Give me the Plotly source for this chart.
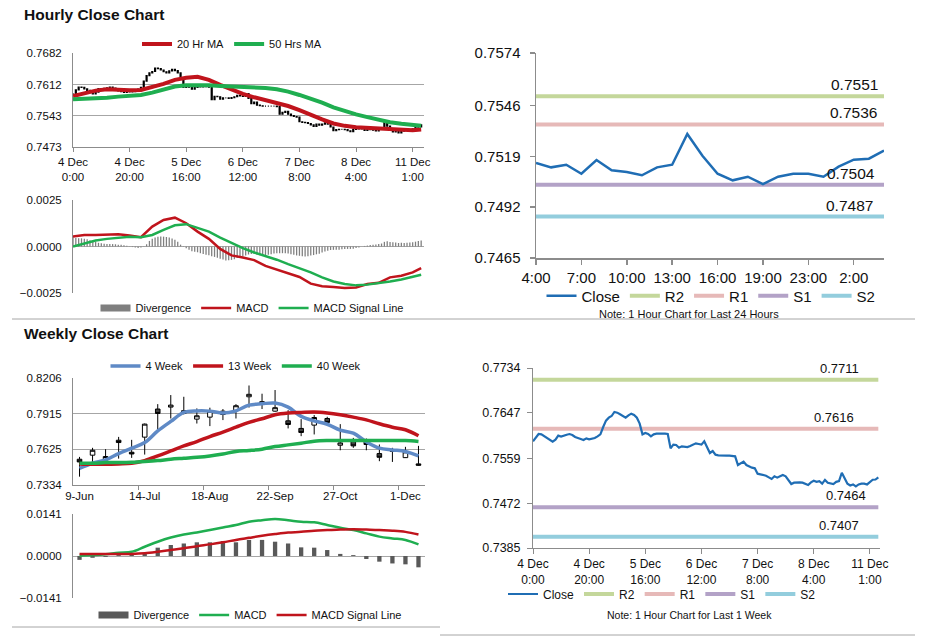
import pandas as pd
import plotly.graph_objects as go

# ---------------- data ----------------
hour_stamps = (list(pd.date_range("2017-12-04 00:00", "2017-12-08 21:00", freq="h")) +
               list(pd.date_range("2017-12-10 23:00", "2017-12-11 04:00", freq="h")))

hourly_close = [
    0.75918, 0.76002, 0.76060, 0.76054, 0.76022, 0.75989, 0.75950, 0.75912, 0.75950, 0.76028,
    0.76009, 0.76034, 0.76047, 0.76060, 0.76041, 0.76002, 0.75976, 0.75963, 0.75944, 0.75976,
    0.75957, 0.75963, 0.75983, 0.76015, 0.76054, 0.76196, 0.76319, 0.76377, 0.76409, 0.76487,
    0.76474, 0.76442, 0.76403, 0.76377, 0.76422, 0.76455, 0.76429, 0.76377, 0.76261, 0.76054,
    0.76080, 0.76060, 0.76015, 0.76054, 0.76067, 0.76073, 0.76067, 0.76067, 0.76060, 0.75782,
    0.75854, 0.75847, 0.75795, 0.75821, 0.75821, 0.75808, 0.75828, 0.75847, 0.75879, 0.75866,
    0.75854, 0.75918, 0.75808, 0.75692, 0.75731, 0.75660, 0.75647, 0.75640, 0.75640, 0.75640,
    0.75640, 0.75640, 0.75627, 0.75459, 0.75498, 0.75524, 0.75459, 0.75427, 0.75408, 0.75395,
    0.75291, 0.75278, 0.75272, 0.75252, 0.75220, 0.75188, 0.75240, 0.75214, 0.75240, 0.75265,
    0.75240, 0.75175, 0.75091, 0.75117, 0.75123, 0.75123, 0.75117, 0.75091, 0.75072, 0.75123,
    0.75155, 0.75132, 0.75146, 0.75098, 0.75171, 0.75116, 0.75107, 0.75090, 0.75132, 0.75146,
    0.75309, 0.75194, 0.75098, 0.75063, 0.75082, 0.75043, 0.75082, 0.75098, 0.75098, 0.75082,
    0.75136, 0.75173, 0.75178, 0.75221]

ma_hours = [0, 4, 8, 12, 16, 20, 24, 28, 32, 36, 40, 44, 48, 52, 56, 60, 64, 68, 72, 76,
            80, 84, 88, 92, 96, 100, 104, 108, 112, 116, 120, 123]
ma20 = [0.75865, 0.75924, 0.75984, 0.76014, 0.75999, 0.75991, 0.75999, 0.76059, 0.76133, 0.76223,
        0.76268, 0.76290, 0.76223, 0.76111, 0.75999, 0.75909, 0.75835, 0.75775, 0.75715, 0.75641,
        0.75551, 0.75439, 0.75342, 0.75253, 0.75200, 0.75171, 0.75156, 0.75148, 0.75133, 0.75111,
        0.75103, 0.75118]
ma50 = [0.75790, 0.75797, 0.75812, 0.75827, 0.75850, 0.75865, 0.75887, 0.75939, 0.76014, 0.76074,
        0.76103, 0.76111, 0.76103, 0.76089, 0.76081, 0.76074, 0.76059, 0.76044, 0.76014, 0.75962,
        0.75887, 0.75805, 0.75715, 0.75611, 0.75529, 0.75454, 0.75394, 0.75335, 0.75282, 0.75245,
        0.75215, 0.75200]
h_macd = [0.00054, 0.00062, 0.00062, 0.00062, 0.00066, 0.00059, 0.00050, 0.00107, 0.00143, 0.00155,
          0.00125, 0.00080, 0.00041, -0.00013, -0.00048, -0.00059, -0.00073, -0.00104, -0.00125, -0.00143,
          -0.00164, -0.00200, -0.00214, -0.00218, -0.00223, -0.00220, -0.00202, -0.00195, -0.00166, -0.00157,
          -0.00139, -0.00116]
h_signal = [0.0, 0.00018, 0.00032, 0.00041, 0.00048, 0.00052, 0.00050, 0.00062, 0.00089, 0.00114,
            0.00120, 0.00102, 0.00080, 0.00048, 0.00018, -0.00009, -0.00032, -0.00050, -0.00071, -0.00095,
            -0.00116, -0.00139, -0.00166, -0.00188, -0.00202, -0.00209, -0.00205, -0.00198, -0.00188, -0.00177,
            -0.00164, -0.00152]
h_divergence = [
    0.00050, 0.00046, 0.00045, 0.00044, 0.00042, 0.00039, 0.00034, 0.00028, 0.00024, 0.00020,
    0.00017, 0.00015, 0.00014, 0.00013, 0.00013, 0.00012, 0.00010, 0.00009, 0.00007, 0.00004,
    0.00001, -0.00003, -0.00005, -0.00008, -0.00006, 0.00002, 0.00012, 0.00030, 0.00042, 0.00049,
    0.00052, 0.00054, 0.00053, 0.00051, 0.00048, 0.00043, 0.00036, 0.00025, 0.00010, -0.00002,
    -0.00010, -0.00018, -0.00025, -0.00028, -0.00031, -0.00036, -0.00040, -0.00044, -0.00047, -0.00052,
    -0.00056, -0.00060, -0.00066, -0.00070, -0.00075, -0.00074, -0.00072, -0.00068, -0.00062, -0.00058,
    -0.00052, -0.00048, -0.00043, -0.00040, -0.00039, -0.00044, -0.00047, -0.00049, -0.00050, -0.00045,
    -0.00041, -0.00038, -0.00036, -0.00036, -0.00036, -0.00036, -0.00038, -0.00041, -0.00044, -0.00048,
    -0.00050, -0.00052, -0.00054, -0.00052, -0.00048, -0.00046, -0.00042, -0.00039, -0.00032, -0.00027,
    -0.00023, -0.00019, -0.00018, -0.00018, -0.00017, -0.00015, -0.00014, -0.00013, -0.00013, -0.00012,
    -0.00008, -0.00005, 0.00000, 0.00003, 0.00005, 0.00008, 0.00009, 0.00011, 0.00013, 0.00016,
    0.00025, 0.00028, 0.00024, 0.00023, 0.00021, 0.00019, 0.00020, 0.00019, 0.00020, 0.00021,
    0.00023, 0.00026, 0.00029, 0.00032]

day_levels = {"R2": 0.7551, "R1": 0.7536, "S1": 0.7504, "S2": 0.7487}
week_levels = {"R2": 0.7711, "R1": 0.7616, "S1": 0.7464, "S2": 0.7407}

week_labels = ["9-Jun", "16-Jun", "23-Jun", "30-Jun", "7-Jul", "14-Jul", "21-Jul", "28-Jul", "4-Aug",
               "11-Aug", "18-Aug", "25-Aug", "1-Sep", "8-Sep", "15-Sep", "22-Sep", "29-Sep", "6-Oct",
               "13-Oct", "20-Oct", "27-Oct", "3-Nov", "10-Nov", "17-Nov", "24-Nov", "1-Dec", "8-Dec"]
w_open = [0.7544, 0.7577, 0.7538, 0.7699, 0.7601, 0.7724, 0.7953, 0.7969, 0.7939, 0.7871,
          0.7887, 0.7936, 0.7942, 0.8053, 0.8013, 0.7936, 0.7857, 0.7795, 0.7822, 0.7876,
          0.7658, 0.7694, 0.7694, 0.7590, 0.7615, 0.7557, 0.7506]
w_high = [0.7563, 0.7637, 0.7626, 0.7726, 0.7702, 0.7835, 0.7993, 0.8067, 0.8053, 0.7958,
          0.7964, 0.7953, 0.7993, 0.8145, 0.8078, 0.8108, 0.7944, 0.7871, 0.7904, 0.7890,
          0.7830, 0.7718, 0.7713, 0.7664, 0.7637, 0.7645, 0.7653]
w_low = [0.7402, 0.7517, 0.7520, 0.7549, 0.7555, 0.7582, 0.7789, 0.7876, 0.7909, 0.7835,
         0.7814, 0.7863, 0.7876, 0.7965, 0.7953, 0.7931, 0.7795, 0.7732, 0.7746, 0.7835,
         0.7617, 0.7637, 0.7617, 0.7528, 0.7522, 0.7555, 0.7492]
w_close = [0.7522, 0.7617, 0.7566, 0.7680, 0.7587, 0.7830, 0.7917, 0.7985, 0.7917, 0.7898,
           0.7936, 0.7909, 0.7980, 0.8073, 0.8002, 0.7964, 0.7827, 0.7762, 0.7884, 0.7844,
           0.7677, 0.7653, 0.7664, 0.7560, 0.7609, 0.7604, 0.7495]
ma4 = [0.7470, 0.7511, 0.7538, 0.7590, 0.7634, 0.7680, 0.7775, 0.7852, 0.7925, 0.7938,
       0.7936, 0.7920, 0.7938, 0.7985, 0.7996, 0.8002, 0.7969, 0.7893, 0.7857, 0.7829,
       0.7781, 0.7756, 0.7686, 0.7634, 0.7620, 0.7607, 0.7571]
ma13 = [0.7506, 0.7503, 0.7503, 0.7506, 0.7511, 0.7533, 0.7571, 0.7612, 0.7653, 0.7688,
        0.7729, 0.7765, 0.7805, 0.7844, 0.7874, 0.7906, 0.7920, 0.7925, 0.7928, 0.7920,
        0.7906, 0.7887, 0.7865, 0.7833, 0.7805, 0.7784, 0.7735]
ma40 = [0.7511, 0.7511, 0.7517, 0.7517, 0.7519, 0.7525, 0.7533, 0.7544, 0.7552, 0.7560,
        0.7571, 0.7587, 0.7607, 0.7615, 0.7626, 0.7647, 0.7661, 0.7675, 0.7691, 0.7696,
        0.7696, 0.7696, 0.7696, 0.7696, 0.7696, 0.7696, 0.7688]
w_macd = [0.0001, 0.0003, 0.0006, 0.0011, 0.0014, 0.0031, 0.0048, 0.0062, 0.0072, 0.0079,
          0.0087, 0.0096, 0.0104, 0.0115, 0.0120, 0.0124, 0.0120, 0.0115, 0.0113, 0.0104,
          0.0095, 0.0087, 0.0076, 0.0065, 0.0059, 0.0054, 0.0039]
w_signal = [0.0007, 0.0007, 0.0007, 0.0007, 0.0007, 0.0009, 0.0014, 0.0020, 0.0026, 0.0033,
            0.0039, 0.0046, 0.0054, 0.0061, 0.0068, 0.0074, 0.0079, 0.0081, 0.0085, 0.0087,
            0.0089, 0.0090, 0.0089, 0.0087, 0.0085, 0.0081, 0.0072]
w_divergence = [-0.0013, -0.0006, -0.0003, 0.0003, 0.0006, 0.0009, 0.0028, 0.0037, 0.0042, 0.0046,
                0.0046, 0.0050, 0.0046, 0.0054, 0.0054, 0.0048, 0.0042, 0.0029, 0.0028, 0.0020,
                0.0007, 0.0003, -0.0010, -0.0019, -0.0025, -0.0028, -0.0038]

hourly_ticks = [0, 20, 40, 60, 80, 100, 120]
day_ticks = [100, 103, 106, 109, 112, 115, 118, 121]
week_ticks = [0, 5, 10, 15, 20, 25]

# ---------------- style ----------------
W, H = 928, 638
FONT = "Liberation Sans, Arial, sans-serif"
RED = "#c0141c"
GREEN = "#1fae50"
BLUE = "#1f6db4"
STEEL = "#5f8ac6"
AXC = "#8c8c8c"
GRID = "#a6a6a6"
LVL_COL = {"R2": "#c4d79b", "R1": "#e6b9b8", "S1": "#b3a2c7", "S2": "#93cddd"}


def fx(p):
    return p / W


def fy(p):
    return 1 - p / H


hx = list(range(len(hourly_close)))
h_open = [hourly_close[0]] + hourly_close[:-1]
h_high = [max(o, c) for o, c in zip(h_open, hourly_close)]
h_low = [min(o, c) for o, c in zip(h_open, hourly_close)]
wx = list(range(len(week_labels)))


def hour_label(i):
    d = hour_stamps[i]
    return f"{d.day} Dec<br>{d.hour}:00"


fig = go.Figure()

# ---- panel 1: hourly close with MAs ----
fig.add_trace(go.Scatter(x=ma_hours, y=ma20, mode="lines", name="20 Hr MA",
                         line=dict(color=RED, width=4), xaxis="x", yaxis="y", legend="legend"))
fig.add_trace(go.Scatter(x=ma_hours, y=ma50, mode="lines", name="50 Hrs MA",
                         line=dict(color=GREEN, width=4), xaxis="x", yaxis="y", legend="legend"))
fig.add_trace(go.Candlestick(x=hx, open=h_open, high=h_high, low=h_low, close=hourly_close,
                             increasing=dict(line=dict(color="black", width=1.2), fillcolor="white"),
                             decreasing=dict(line=dict(color="black", width=1.2), fillcolor="black"),
                             showlegend=False, hoverinfo="skip", xaxis="x", yaxis="y"))

# ---- panel 2: hourly MACD ----
fig.add_trace(go.Bar(x=hx, y=h_divergence, width=0.45, marker=dict(color="#7f7f7f", line=dict(width=0)),
                     showlegend=False, xaxis="x2", yaxis="y2"))
fig.add_trace(go.Scatter(x=[None], y=[None], mode="lines", name="Divergence",
                         line=dict(color="#7f7f7f", width=7), xaxis="x2", yaxis="y2", legend="legend2"))
fig.add_trace(go.Scatter(x=ma_hours, y=h_macd, mode="lines", name="MACD",
                         line=dict(color=RED, width=2.5), xaxis="x2", yaxis="y2", legend="legend2"))
fig.add_trace(go.Scatter(x=ma_hours, y=h_signal, mode="lines", name="MACD Signal Line",
                         line=dict(color=GREEN, width=2.5), xaxis="x2", yaxis="y2", legend="legend2"))

# ---- panel 3: last 24 hours ----
for rank, (k, v) in enumerate(day_levels.items()):
    fig.add_trace(go.Scatter(x=[hx[100], hx[-1]], y=[v, v], mode="lines", name=k,
                             line=dict(color=LVL_COL[k], width=4), xaxis="x3", yaxis="y3",
                             legend="legend3", legendrank=rank + 2))
fig.add_trace(go.Scatter(x=hx[100:], y=hourly_close[100:], mode="lines", name="Close",
                         line=dict(color=BLUE, width=2.5), xaxis="x3", yaxis="y3",
                         legend="legend3", legendrank=1))

# ---- panel 4: weekly candles ----
fig.add_trace(go.Candlestick(x=wx, open=w_open, high=w_high, low=w_low, close=w_close,
                             increasing=dict(line=dict(color="black", width=1), fillcolor="white"),
                             decreasing=dict(line=dict(color="black", width=1), fillcolor="#404040"),
                             showlegend=False, hoverinfo="skip", xaxis="x4", yaxis="y4"))
fig.add_trace(go.Scatter(x=wx, y=ma4, mode="lines", name="4 Week", line=dict(color=STEEL, width=3.5, shape="spline"),
                         xaxis="x4", yaxis="y4", legend="legend4"))
fig.add_trace(go.Scatter(x=wx, y=ma13, mode="lines", name="13 Week", line=dict(color=RED, width=3.5, shape="spline"),
                         xaxis="x4", yaxis="y4", legend="legend4"))
fig.add_trace(go.Scatter(x=wx, y=ma40, mode="lines", name="40 Week", line=dict(color=GREEN, width=3.5, shape="spline"),
                         xaxis="x4", yaxis="y4", legend="legend4"))

# ---- panel 5: weekly MACD ----
fig.add_trace(go.Bar(x=wx, y=w_divergence, width=0.33, marker=dict(color="#595959", line=dict(width=0)),
                     showlegend=False, xaxis="x5", yaxis="y5"))
fig.add_trace(go.Scatter(x=[None], y=[None], mode="lines", name="Divergence",
                         line=dict(color="#595959", width=7), xaxis="x5", yaxis="y5", legend="legend5"))
fig.add_trace(go.Scatter(x=wx, y=w_macd, mode="lines", name="MACD", line=dict(color=GREEN, width=2.5, shape="spline"),
                         xaxis="x5", yaxis="y5", legend="legend5"))
fig.add_trace(go.Scatter(x=wx, y=w_signal, mode="lines", name="MACD Signal Line",
                         line=dict(color=RED, width=2.5, shape="spline"), xaxis="x5", yaxis="y5", legend="legend5"))

# ---- panel 6: last week hourly ----
for rank, (k, v) in enumerate(week_levels.items()):
    fig.add_trace(go.Scatter(x=[hx[0], hx[-1]], y=[v, v], mode="lines", name=k,
                             line=dict(color=LVL_COL[k], width=4), xaxis="x6", yaxis="y6",
                             legend="legend6", legendrank=rank + 2))
fig.add_trace(go.Scatter(x=hx, y=hourly_close, mode="lines", name="Close",
                         line=dict(color=BLUE, width=2.2), xaxis="x6", yaxis="y6",
                         legend="legend6", legendrank=1))


# ---------------- axes ----------------
def tickfont(s):
    return dict(family=FONT, size=s, color="#111111")


lay = dict(
    template="none",
    width=W, height=H, margin=dict(l=0, r=0, t=0, b=0, pad=0), autosize=False,
    paper_bgcolor="white", plot_bgcolor="white",
    font=dict(family=FONT, color="#111111"),
    hovermode=False, boxgap=0.5, boxgroupgap=0.3, barmode="overlay",
)

common = dict(automargin=False, zeroline=False)

# panel 1
lay["xaxis"] = dict(domain=[fx(73), fx(424)], anchor="y", range=[0, 124],
                    tickvals=hourly_ticks, ticktext=[hour_label(i) for i in hourly_ticks],
                    ticks="outside", ticklen=4, tickcolor=AXC, showline=True, linecolor=AXC,
                    showgrid=False, tickfont=tickfont(11.5),
                    rangeslider=dict(visible=False), **common)
lay["yaxis"] = dict(domain=[fy(147), fy(53)], anchor="x", range=[0.7473, 0.7682],
                    tickvals=[0.7473, 0.7543, 0.7612, 0.7682], tickformat=".4f",
                    showgrid=True, gridcolor=GRID, showline=True, linecolor=AXC,
                    ticks="", ticklabelstandoff=8, tickfont=tickfont(11.5), **common)
# panel 2
lay["xaxis2"] = dict(domain=[fx(73), fx(424)], anchor="y2", range=[0, 124], showticklabels=False,
                     showline=False, showgrid=False, ticks="", **common)
lay["yaxis2"] = dict(domain=[fy(293), fy(200)], anchor="x2", range=[-0.0025, 0.0025],
                     tickvals=[-0.0025, 0.0, 0.0025], tickformat=".4f",
                     showgrid=True, gridcolor=GRID, showline=True, linecolor=AXC,
                     ticks="", ticklabelstandoff=8, tickfont=tickfont(11.5), **common)
# panel 3
lay["xaxis3"] = dict(domain=[fx(536), fx(884)], anchor="y3", range=[100, 123],
                     tickvals=day_ticks, ticktext=[f"{hour_stamps[i].hour}:00" for i in day_ticks],
                     ticks="outside", ticklen=5, tickcolor=AXC, tickwidth=1.5,
                     showline=True, linecolor=AXC, linewidth=1.5,
                     showgrid=False, tickfont=tickfont(15), **common)
lay["yaxis3"] = dict(domain=[fy(258), fy(53)], anchor="x3", range=[0.7465, 0.7574],
                     tickvals=[0.7465, 0.7492, 0.7519, 0.7546, 0.7574], tickformat=".4f",
                     showgrid=False, showline=True, linecolor=AXC, linewidth=1.5,
                     ticks="outside", ticklen=5, tickcolor=AXC, tickwidth=1.5,
                     ticklabelstandoff=6, tickfont=tickfont(15), **common)
# panel 4
lay["xaxis4"] = dict(domain=[fx(73), fx(425)], anchor="y4", range=[-0.5, 26.5],
                     tickvals=week_ticks, ticktext=[week_labels[i] for i in week_ticks],
                     ticks="", showline=True, linecolor=AXC, showgrid=False,
                     tickfont=tickfont(11.5), rangeslider=dict(visible=False),
                     minor=dict(tickmode="array", tickvals=[4.5, 9.5, 14.5, 19.5, 24.5],
                                ticks="outside", ticklen=4, tickcolor=AXC, showgrid=False),
                     **common)
lay["yaxis4"] = dict(domain=[fy(485), fy(378)], anchor="x4", range=[0.7334, 0.8206],
                     tickvals=[0.7334, 0.7625, 0.7915, 0.8206], tickformat=".4f",
                     showgrid=True, gridcolor=GRID, showline=True, linecolor=AXC,
                     ticks="", ticklabelstandoff=8, tickfont=tickfont(11.5), **common)
# panel 5
lay["xaxis5"] = dict(domain=[fx(73), fx(425)], anchor="y5", range=[-0.5, 26.5], showticklabels=False,
                     showline=False, showgrid=False, ticks="", **common)
lay["yaxis5"] = dict(domain=[fy(598), fy(514)], anchor="x5", range=[-0.0141, 0.0141],
                     tickvals=[-0.0141, 0.0, 0.0141], tickformat=".4f",
                     showgrid=True, gridcolor=GRID, showline=True, linecolor=AXC,
                     ticks="", ticklabelstandoff=8, tickfont=tickfont(11.5), **common)
# panel 6
lay["xaxis6"] = dict(domain=[fx(533), fx(880)], anchor="y6", range=[0, 123.6],
                     tickvals=hourly_ticks, ticktext=[hour_label(i) for i in hourly_ticks],
                     ticks="outside", ticklen=5, tickcolor=AXC, showline=True, linecolor=AXC,
                     showgrid=False, tickfont=tickfont(12), **common)
lay["yaxis6"] = dict(domain=[fy(548), fy(368)], anchor="x6", range=[0.7385, 0.7734],
                     tickvals=[0.7385, 0.7472, 0.7559, 0.7647, 0.7734], tickformat=".4f",
                     showgrid=False, showline=True, linecolor=AXC,
                     ticks="outside", ticklen=5, tickcolor=AXC,
                     ticklabelstandoff=4, tickfont=tickfont(12.5), **common)


# ---------------- legends ----------------
def legend(xc, yc, size):
    return dict(x=fx(xc), y=fy(yc), xanchor="center", yanchor="middle", orientation="h",
                bgcolor="rgba(0,0,0,0)", borderwidth=0,
                font=dict(family=FONT, size=size, color="#111111"),
                itemwidth=30, tracegroupgap=0)


lay["legend"] = legend(232, 44, 11)
lay["legend2"] = legend(252, 308, 11)
lay["legend3"] = legend(711, 296, 15)
lay["legend4"] = legend(236, 366, 11)
lay["legend5"] = legend(250, 615, 11)
lay["legend6"] = legend(662, 594, 12)

fig.update_layout(**lay)

# ---------------- annotations & shapes ----------------
ann = [
    dict(text="<b>Hourly Close Chart</b>", x=fx(22), y=fy(14), xref="paper", yref="paper",
         xanchor="left", yanchor="middle", showarrow=False, font=dict(family=FONT, size=15.5, color="#111111")),
    dict(text="<b>Weekly Close Chart</b>", x=fx(22), y=fy(333), xref="paper", yref="paper",
         xanchor="left", yanchor="middle", showarrow=False, font=dict(family=FONT, size=15.5, color="#111111")),
    dict(text="Note: 1 Hour Chart for Last 24 Hours", x=fx(689), y=fy(314), xref="paper", yref="paper",
         xanchor="center", yanchor="middle", showarrow=False, font=dict(family=FONT, size=11, color="#111111")),
    dict(text="Note: 1 Hour Chart for Last 1 Week", x=fx(689), y=fy(615), xref="paper", yref="paper",
         xanchor="center", yanchor="middle", showarrow=False, font=dict(family=FONT, size=10.5, color="#111111")),
]
day_shift = {"R2": -4, "R1": -5, "S1": -7, "S2": -9}
for k, v in day_levels.items():
    ann.append(dict(text=f"{v:.4f}", x=hx[-1], y=v, xref="x3", yref="y3", xanchor="right",
                    yanchor="bottom", xshift=day_shift[k], yshift=1, showarrow=False,
                    font=dict(family=FONT, size=15.5, color="#111111")))
week_shift = {"R2": -17, "R1": -22, "S1": -10, "S2": -17}
for k, v in week_levels.items():
    ann.append(dict(text=f"{v:.4f}", x=hx[-1], y=v, xref="x6", yref="y6", xanchor="right",
                    yanchor="bottom", xshift=week_shift[k], yshift=2, showarrow=False,
                    font=dict(family=FONT, size=13, color="#111111")))

shapes = [
    dict(type="line", xref="paper", yref="paper", x0=fx(12), x1=fx(915), y0=fy(319), y1=fy(319),
         line=dict(color="#a6a6a6", width=1)),
    dict(type="line", xref="paper", yref="paper", x0=fx(12), x1=fx(440), y0=fy(627), y1=fy(627),
         line=dict(color="#a6a6a6", width=1)),
    dict(type="line", xref="paper", yref="paper", x0=fx(440), x1=fx(915), y0=fy(635), y1=fy(635),
         line=dict(color="#a6a6a6", width=1)),
]
fig.update_layout(annotations=ann, shapes=shapes)

fig.write_html("out.html", config={"displayModeBar": False, "staticPlot": True},
               post_script="document.body.style.margin='0px';document.body.style.overflow='hidden';")
